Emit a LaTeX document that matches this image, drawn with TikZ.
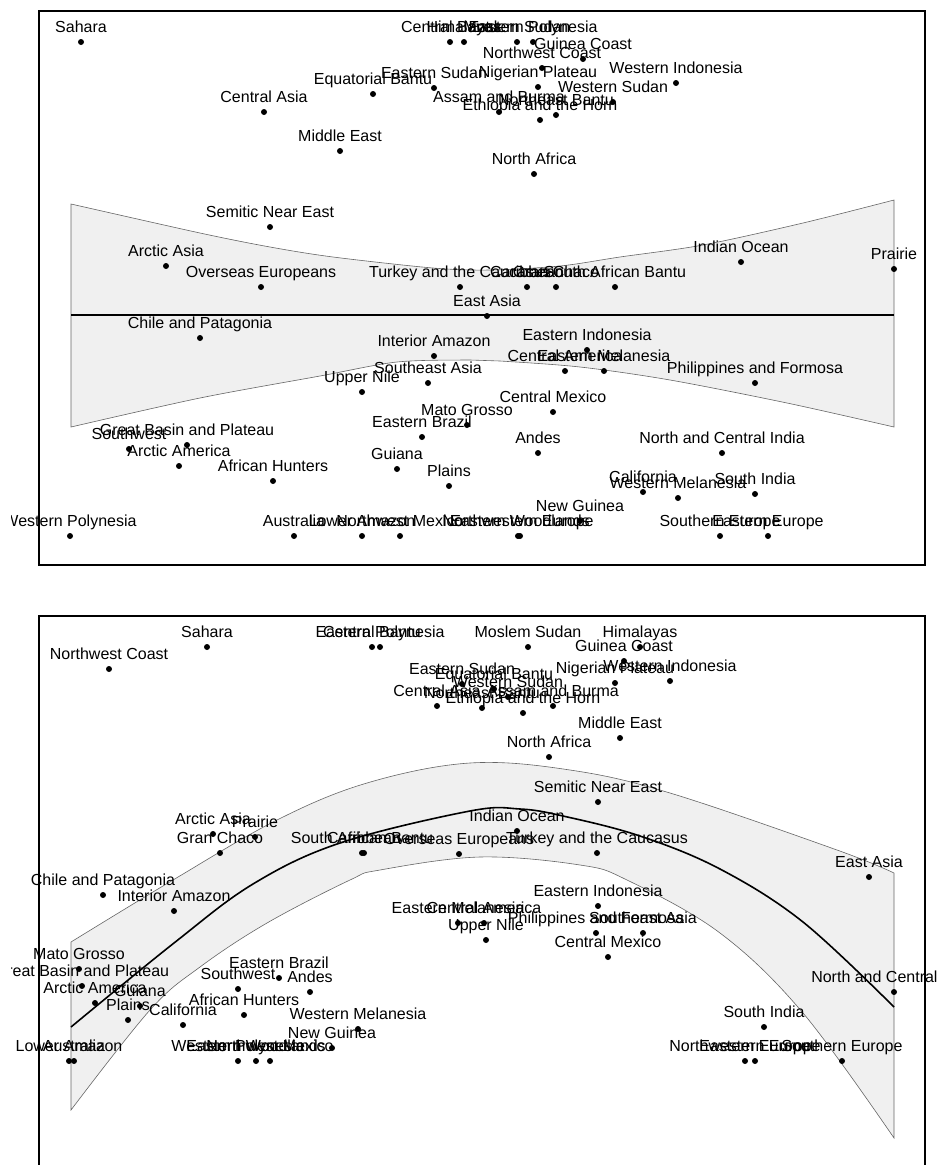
\documentclass[tikz,border=0pt]{standalone}
\usepackage{fontspec}
\setmainfont{Liberation Sans}
\begin{document}
\begin{tikzpicture}[x=1pt,y=-1pt,
    pt/.style={shape=circle,fill=black,inner sep=0pt,minimum size=6pt,
      label={[lbl]above:#1}},
    lbl/.style={anchor=base,inner sep=0pt,font=\fontsize{16}{16}\selectfont},
    label distance=6.3pt,
    band/.style={fill=black!6,draw=black!60,line width=0.6pt},
    frame/.style={draw=black,line width=1.5pt}]
  \useasboundingbox (0,0) rectangle (943,1165);
  % bands
  \draw[band] plot[smooth,tension=0.5] coordinates {(71,204) (200,233) (270,247)
      (333,257) (433,268) (490,270) (560,266) (620,257) (703,245) (803,223) (894,200)}
    -- plot[smooth,tension=0.5] coordinates {(894,427) (787,403) (670,380) (580,367)
      (500,361) (470,360) (397,362) (320,376) (200,398) (71,427)} -- cycle;
  \draw[line width=1.2pt] (71,315) -- (894,315);
  \draw[band] plot[smooth,tension=0.6] coordinates {(71,942) (173,880) (277,820)
      (367,783) (470,763) (570,770) (670,793) (837,850) (894,873)}
    -- plot[smooth,tension=0.6] coordinates {(894,1138) (803,1013) (720,933) (627,880)
      (580,865) (480,857) (380,870) (350,880) (267,923) (200,967) (150,1010) (71,1110)}
    -- cycle;
  \draw[line width=1.6pt] plot[smooth,tension=0.6] coordinates {(71,1027) (174,943)
      (253,884) (340,843) (470,811) (520,809) (563,816) (640,836) (720,869)
      (803,922) (894,1007)};
  % frames
  \draw[frame] (39,11) rectangle (925,565);
  \draw[frame] (39,1170) -- (39,616) -- (925,616) -- (925,1170);
  \begin{scope}
    \clip (11,0) rectangle (937,1165);
    % top panel
    \draw
      (81,42) node[pt=Sahara] (t1){}
      (450,42) node[pt=Central Bantu] (t2){}
      (464,42) node[pt=Himalayas] (t3){}
      (517,42) node[pt=Moslem Sudan] (t4){}
      (533,42) node[pt=Eastern Polynesia] (t5){}
      (583,59) node[pt=Guinea Coast] (t6){}
      (542,68) node[pt=Northwest Coast] (t7){}
      (538,87) node[pt=Nigerian Plateau] (t8){}
      (676,83) node[pt=Western Indonesia] (t9){}
      (373,94) node[pt=Equatorial Bantu] (t10){}
      (434,88) node[pt=Eastern Sudan] (t11){}
      (264,112) node[pt=Central Asia] (t12){}
      (613,102) node[pt=Western Sudan] (t13){}
      (499,112) node[pt=Assam and Burma] (t14){}
      (556,115) node[pt=Northeast Bantu] (t15){}
      (540,120) node[pt=Ethiopia and the Horn] (t16){}
      (340,151) node[pt=Middle East] (t17){}
      (534,174) node[pt=North Africa] (t18){}
      (270,227) node[pt=Semitic Near East] (t19){}
      (166,266) node[pt=Arctic Asia] (t20){}
      (741,262) node[pt=Indian Ocean] (t21){}
      (894,269) node[pt=Prairie] (t22){}
      (261,287) node[pt=Overseas Europeans] (t23){}
      (460,287) node[pt=Turkey and the Caucasus] (t24){}
      (527,287) node[pt=Caribbean] (t25){}
      (556,287) node[pt=Gran Chaco] (t26){}
      (615,287) node[pt=South African Bantu] (t27){}
      (487,316) node[pt=East Asia] (t28){}
      (200,338) node[pt=Chile and Patagonia] (t29){}
      (434,356) node[pt=Interior Amazon] (t30){}
      (587,350) node[pt=Eastern Indonesia] (t31){}
      (565,371) node[pt=Central America] (t32){}
      (604,371) node[pt=Eastern Melanesia] (t33){}
      (755,383) node[pt=Philippines and Formosa] (t34){}
      (428,383) node[pt=Southeast Asia] (t35){}
      (362,392) node[pt=Upper Nile] (t36){}
      (553,412) node[pt=Central Mexico] (t37){}
      (467,425) node[pt=Mato Grosso] (t38){}
      (422,437) node[pt=Eastern Brazil] (t39){}
      (538,453) node[pt=Andes] (t40){}
      (722,453) node[pt=North and Central India] (t41){}
      (187,445) node[pt=Great Basin and Plateau] (t42){}
      (129,449) node[pt=Southwest] (t43){}
      (179,466) node[pt=Arctic America] (t44){}
      (273,481) node[pt=African Hunters] (t45){}
      (397,469) node[pt=Guiana] (t46){}
      (449,486) node[pt=Plains] (t47){}
      (643,492) node[pt=California] (t48){}
      (678,498) node[pt=Western Melanesia] (t49){}
      (755,494) node[pt=South India] (t50){}
      (580,521) node[pt=New Guinea] (t51){}
      (70,536) node[pt=Western Polynesia] (t52){}
      (294,536) node[pt=Australia] (t53){}
      (362,536) node[pt=Lower Amazon] (t54){}
      (400,536) node[pt=Northwest Mexico] (t55){}
      (520,536) node[pt=Eastern Woodlands] (t56){}
      (518,536) node[pt=Northwestern Europe] (t57){}
      (720,536) node[pt=Southern Europe] (t58){}
      (768,536) node[pt=Eastern Europe] (t59){};
    % bottom panel
    \draw
      (109,669) node[pt=Northwest Coast] (b1){}
      (207,647) node[pt=Sahara] (b2){}
      (372,647) node[pt=Central Bantu] (b3){}
      (380,647) node[pt=Eastern Polynesia] (b4){}
      (528,647) node[pt=Moslem Sudan] (b5){}
      (640,647) node[pt=Himalayas] (b6){}
      (624,661) node[pt=Guinea Coast] (b7){}
      (670,681) node[pt=Western Indonesia] (b8){}
      (615,683) node[pt=Nigerian Plateau] (b9){}
      (462,684) node[pt=Eastern Sudan] (b10){}
      (494,689) node[pt=Equatorial Bantu] (b11){}
      (508,697) node[pt=Western Sudan] (b12){}
      (437,706) node[pt=Central Asia] (b13){}
      (482,708) node[pt=Northeast Bantu] (b14){}
      (553,706) node[pt=Assam and Burma] (b15){}
      (523,713) node[pt=Ethiopia and the Horn] (b16){}
      (620,738) node[pt=Middle East] (b17){}
      (549,757) node[pt=North Africa] (b18){}
      (598,802) node[pt=Semitic Near East] (b19){}
      (517,831) node[pt=Indian Ocean] (b20){}
      (597,853) node[pt=Turkey and the Caucasus] (b21){}
      (459,854) node[pt=Overseas Europeans] (b22){}
      (362,853) node[pt=South African Bantu] (b23){}
      (364,853) node[pt=Caribbean] (b24){}
      (213,834) node[pt=Arctic Asia] (b25){}
      (255,837) node[pt=Prairie] (b26){}
      (220,853) node[pt=Gran Chaco] (b27){}
      (869,877) node[pt=East Asia] (b28){}
      (103,895) node[pt=Chile and Patagonia] (b29){}
      (174,911) node[pt=Interior Amazon] (b30){}
      (598,906) node[pt=Eastern Indonesia] (b31){}
      (458,923) node[pt=Eastern Melanesia] (b32){}
      (484,923) node[pt=Central America] (b33){}
      (596,933) node[pt=Philippines and Formosa] (b34){}
      (643,933) node[pt=Southeast Asia] (b35){}
      (486,940) node[pt=Upper Nile] (b36){}
      (608,957) node[pt=Central Mexico] (b37){}
      (894,992) node[pt=North and Central India] (b38){}
      (79,969) node[pt=Mato Grosso] (b39){}
      (82,986) node[pt=Great Basin and Plateau] (b40){}
      (95,1003) node[pt=Arctic America] (b41){}
      (140,1006) node[pt=Guiana] (b42){}
      (128,1020) node[pt=Plains] (b43){}
      (183,1025) node[pt=California] (b44){}
      (279,978) node[pt=Eastern Brazil] (b45){}
      (238,989) node[pt=Southwest] (b46){}
      (310,992) node[pt=Andes] (b47){}
      (244,1015) node[pt=African Hunters] (b48){}
      (358,1029) node[pt=Western Melanesia] (b49){}
      (332,1048) node[pt=New Guinea] (b50){}
      (69,1061) node[pt=Lower Amazon] (b51){}
      (74,1061) node[pt=Australia] (b52){}
      (238,1061) node[pt=Western Polynesia] (b53){}
      (256,1061) node[pt=Eastern Woodlands] (b54){}
      (270,1061) node[pt=Northwest Mexico] (b55){}
      (764,1027) node[pt=South India] (b56){}
      (745,1061) node[pt=Northwestern Europe] (b57){}
      (755,1061) node[pt=Eastern Europe] (b58){}
      (842,1061) node[pt=Southern Europe] (b59){};
  \end{scope}
\end{tikzpicture}
\end{document}
